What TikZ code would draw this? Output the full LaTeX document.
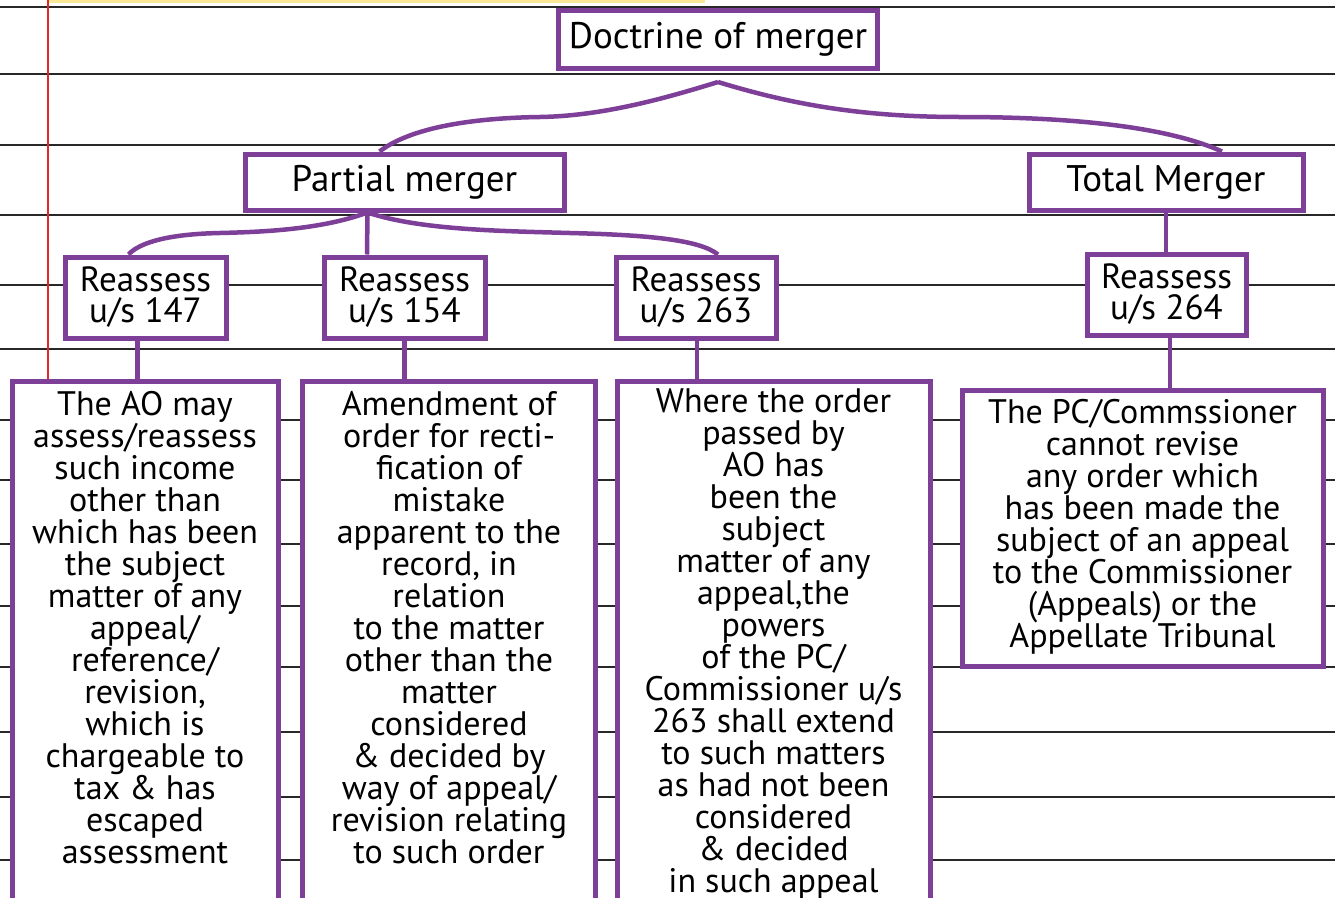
\documentclass[tikz,border=0pt]{standalone}
\usepackage{fontspec}
\setmainfont{PT Sans}
\definecolor{pp}{RGB}{126,63,152}
\definecolor{ruleline}{RGB}{40,40,40}
\definecolor{margin}{RGB}{228,40,40}
\definecolor{hl}{RGB}{250,232,150}
\begin{document}
\begin{tikzpicture}[x=1pt,y=-1pt,
  rule/.style={draw=ruleline, line width=1.8pt},
  frame/.style={draw=pp, line width=5pt, fill=white, inner sep=0pt},
  link/.style={draw=pp, line width=4.5pt},
  head/.style={font=\fontsize{37}{40}\selectfont},
  rbox/.style={frame, align=center, font=\fontsize{35}{31}\selectfont, minimum height=81pt},
  body/.style={align=center, inner sep=0pt, anchor=north, font=\fontsize{34}{32}\selectfont}]
\useasboundingbox (0,0) rectangle (1335,897);
\clip (0,0) rectangle (1335,897);
\fill[white] (0,0) rectangle (1335,897);
\fill[hl] (48,0) rectangle (705,3);
% ruled lines
\foreach \yy in {7,74,145,215,285,349,420,480,544,606,667,732,797,860}
  \draw[rule] (0,\yy) -- (1335,\yy);
% margin line
\draw[draw=margin, line width=2pt] (48,0) -- (48,897);
% header boxes
\node[frame, head, minimum width=319pt, minimum height=58pt] (doc) at (718,39.5) {Doctrine of merger};
\node[frame, head, minimum width=319pt, minimum height=56pt] (partial) at (404.5,182) {Partial merger};
\node[frame, head, minimum width=274pt, minimum height=56pt] (total) at (1166,182) {Total Merger};
% section boxes
\node[rbox, minimum width=161pt] (r147) at (145.5,297.5) {Reassess\\u/s 147};
\node[rbox, minimum width=161pt] (r154) at (404.5,297.5) {Reassess\\u/s 154};
\node[rbox, minimum width=160pt] (r263) at (696,297.5) {Reassess\\u/s 263};
\node[rbox, minimum width=159pt] (r264) at (1166.5,294.5) {Reassess\\u/s 264};
% description boxes
\node[frame, minimum width=266pt, minimum height=540pt] (b147) at (145,651) {};
\node[frame, minimum width=293.5pt, minimum height=540pt] (b154) at (449,651) {};
\node[frame, minimum width=313pt, minimum height=540pt] (b263) at (773.5,651) {};
\node[frame, minimum width=361pt, minimum height=276pt] (b264) at (1142.5,528) {};
\node[body] (t147) at ([yshift=-13pt]b147.north) {The AO may\\assess/reassess\\such income\\other than\\which has been\\the subject\\matter of any\\appeal/\\reference/\\revision,\\which is\\chargeable to\\tax \& has\\escaped\\assessment};
\node[body] (t154) at ([yshift=-13pt]b154.north) {Amendment of\\order for recti-\\fication of\\mistake\\apparent to the\\record, in\\relation\\to the matter\\other than the\\matter\\considered\\\& decided by\\way of appeal/\\revision relating\\to such order};
\node[body] (t263) at ([yshift=-10pt]b263.north) {Where the order\\passed by\\AO has\\been the\\subject\\matter of any\\appeal,the\\powers\\of the PC/\\Commissioner u/s\\263 shall extend\\to such matters\\as had not been\\considered\\\& decided\\in such appeal};
\node[body] (t264) at ([yshift=-12pt]b264.north) {The PC/Commssioner\\cannot revise\\any order which\\has been made the\\subject of an appeal\\to the Commissioner\\(Appeals) or the\\Appellate Tribunal};
% connectors
\draw[link] ([yshift=-11pt]doc.south) .. controls (660,100) and (600,116) .. (540,117) .. controls (470,118) and (410,128) .. ([xshift=-25pt]partial.north);
\draw[link] ([yshift=-11pt]doc.south) .. controls (790,104) and (860,117) .. (960,117) .. controls (1080,117) and (1170,128) .. ([xshift=56pt]total.north);
\draw[link] ([xshift=-37pt]partial.south) .. controls (320,230) and (260,232) .. (220,233) .. controls (170,234) and (140,242) .. ([xshift=-17pt]r147.north);
\draw[link] ([xshift=-37pt]partial.south) .. controls (420,230) and (500,231) .. (570,233) .. controls (650,235) and (700,240) .. ([xshift=22pt]r263.north);
\draw[link] ([xshift=-37pt]partial.south) -- ([xshift=-37.5pt]r154.north);
\draw[link] ([xshift=-8pt]r147.south) -- ([xshift=-7.5pt]b147.north);
\draw[link] (r154.south) -- ([xshift=-44.5pt]b154.north);
\draw[link] ([xshift=1pt]r263.south) -- ([xshift=-76.5pt]b263.north);
\draw[link] (total.south) -- ([xshift=-0.5pt]r264.north);
\draw[link] ([xshift=3.5pt]r264.south) -- ([xshift=27.5pt]b264.north);
\end{tikzpicture}
\end{document}
